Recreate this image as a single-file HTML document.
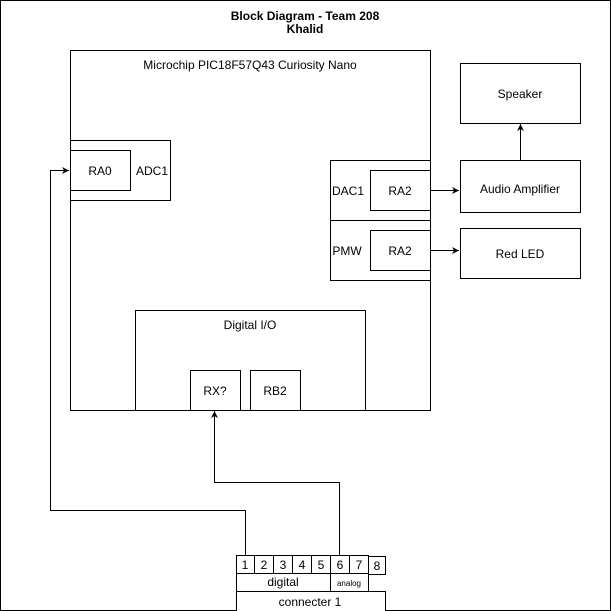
<!DOCTYPE html>
<html><head><style>body{margin:0;background:#fff}svg{display:block}text{font-family:"Liberation Sans",sans-serif;fill:#000}</style></head>
<body>
<svg width="611" height="611" viewBox="0 0 611 611" xmlns="http://www.w3.org/2000/svg">
<defs><marker id="a" markerWidth="8" markerHeight="8" refX="7" refY="4" orient="auto" markerUnits="userSpaceOnUse"><path d="M0,0.5 L7,4 L0,7.5 L2,4 Z" fill="#000"/></marker></defs>
<rect x="0.5" y="0.5" width="610" height="610" fill="#fff" stroke="#000"/>
<g fill="#fff" stroke="#000" stroke-width="1">
<rect x="70.5" y="50.5" width="360" height="360"/>
<rect x="70.5" y="140.5" width="100" height="60"/>
<rect x="70.5" y="150.5" width="60" height="40"/>
<rect x="330.5" y="160.5" width="100" height="60"/>
<rect x="370.5" y="170.5" width="60" height="40"/>
<rect x="330.5" y="220.5" width="100" height="60"/>
<rect x="370.5" y="230.5" width="60" height="40"/>
<rect x="135.5" y="310.5" width="230" height="100"/>
<rect x="190.5" y="370.5" width="50" height="40"/>
<rect x="250.5" y="370.5" width="50" height="40"/>
<rect x="460.5" y="63.5" width="120" height="60"/>
<rect x="460.5" y="160.5" width="120" height="52"/>
<rect x="460.5" y="228.5" width="120" height="50"/>
<rect x="236.5" y="555.5" width="18" height="18"/>
<rect x="254.5" y="555.5" width="19" height="18"/>
<rect x="273.5" y="555.5" width="19" height="18"/>
<rect x="292.5" y="555.5" width="19" height="18"/>
<rect x="311.5" y="555.5" width="19" height="18"/>
<rect x="330.5" y="555.5" width="19" height="18"/>
<rect x="349.5" y="555.5" width="19" height="18"/>
<rect x="368.5" y="556.5" width="17" height="18"/>
<rect x="236.5" y="573.5" width="94" height="18"/>
<rect x="330.5" y="573.5" width="38" height="18"/>
<rect x="236.5" y="591.5" width="149" height="22"/>
</g>
<g fill="none" stroke="#000">
<path d="M430.5,190.5 H459" marker-end="url(#a)"/>
<path d="M430.5,250.5 H459" marker-end="url(#a)"/>
<path d="M520.5,160 V124" marker-end="url(#a)"/>
<path d="M245.5,555 V510.5 H50.5 V170.5 H69" marker-end="url(#a)"/>
<path d="M339.5,555 V482.5 H214.5 V411" marker-end="url(#a)"/>
</g>
<g font-size="12" text-anchor="middle">
<text x="305" y="20" font-weight="bold">Block Diagram - Team 208</text>
<text x="305" y="33" font-weight="bold">Khalid</text>
<text x="250" y="69">Microchip PIC18F57Q43 Curiosity Nano</text>
<text x="100" y="175">RA0</text>
<text x="152" y="175">ADC1</text>
<text x="348" y="195">DAC1</text>
<text x="400" y="195">RA2</text>
<text x="347" y="255">PMW</text>
<text x="400" y="255">RA2</text>
<text x="250" y="329">Digital I/O</text>
<text x="215" y="395">RX?</text>
<text x="275" y="395">RB2</text>
<text x="520" y="98">Speaker</text>
<text x="520" y="193">Audio Amplifier</text>
<text x="520" y="258">Red LED</text>
<text x="245" y="569">1</text><text x="264" y="569">2</text><text x="283" y="569">3</text><text x="302" y="569">4</text><text x="321" y="569">5</text><text x="340" y="569">6</text><text x="359" y="569">7</text><text x="377" y="570">8</text>
<text x="283" y="586">digital</text>
<text x="349" y="586" font-size="8">analog</text>
<text x="310" y="606">connecter 1</text>
</g>
</svg>
</body></html>
